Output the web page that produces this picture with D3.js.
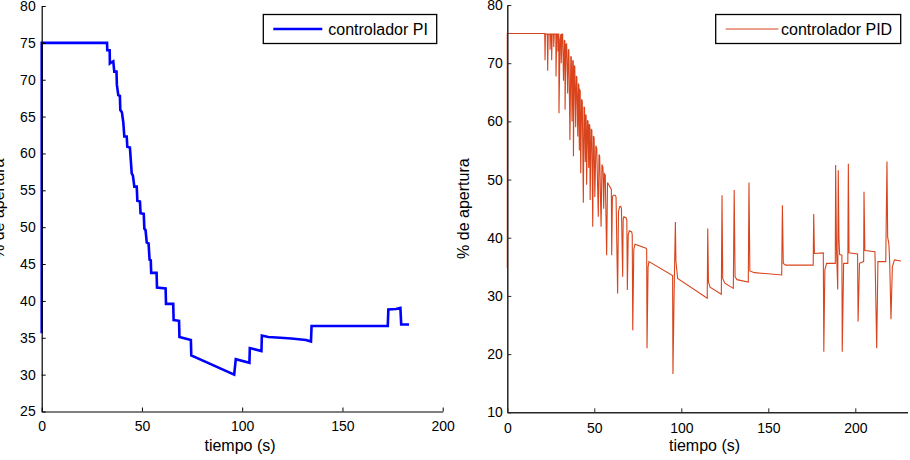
<!DOCTYPE html>
<html>
<head>
<meta charset="utf-8">
<script src="https://cdn.jsdelivr.net/npm/d3@7"></script>
<style>
  body { margin: 0; background: #fff; }
  svg { display: block; font-family: "Liberation Sans", Arial, sans-serif; }
</style>
</head>
<body>
<svg id="chart" width="910" height="460"></svg>
<script>
// ---------- DATA ----------
const piXTicks = [0, 50, 100, 150, 200];
const piYTicks = [25, 30, 35, 40, 45, 50, 55, 60, 65, 70, 75, 80];
const pidXTicks = [0, 50, 100, 150, 200];
const pidYTicks = [10, 20, 30, 40, 50, 60, 70, 80];
const xLabel = "tiempo (s)";
const yLabel = "% de apertura";
const piName = "controlador PI";
const pidName = "controlador PID";

// [time (s), % apertura]
const piSeries = [[0,35.6],[0,75],[32.6,75],[32.7,74.0],[33.9,74.0],[34.0,72.2],[35.0,72.4],[35.7,72.5],[36.2,71.1],[37.3,71.1],[37.5,69.3],[38.2,67.9],[39.0,67.8],[39.2,65.9],[40.0,65.6],[40.7,64.2],[41.2,62.3],[42.4,62.3],[42.7,60.9],[44.0,60.8],[44.9,57.3],[45.5,57.0],[46.2,55.5],[47.4,55.5],[47.7,53.6],[49.0,53.5],[49.3,51.9],[50.9,51.8],[51.2,49.8],[51.8,49.6],[52.4,47.9],[53.3,47.8],[53.8,45.6],[54.4,45.5],[54.6,43.8],[57.3,43.8],[57.5,41.8],[61.8,41.7],[62.0,39.6],[65.6,39.6],[65.8,37.4],[68.5,37.3],[68.7,35.1],[74.4,34.7],[74.6,32.6],[96.0,30.0],[96.8,32.1],[103.6,31.6],[103.8,33.6],[109.6,33.2],[109.8,35.3],[113.0,35.1],[119,35.0],[124.5,34.9],[131.8,34.7],[134.3,34.5],[134.6,36.6],[172.6,36.6],[172.9,38.85],[176.7,38.9],[178.9,39.05],[179.3,36.8],[183.2,36.8]];

const pidSeries = [[0,34.8],[0,75.1],[21.5,75.1],[21.7,70.5],[21.9,75],[23.0,75],[23.2,68.7],[23.5,75],[24.5,75],[24.6,72.3],[24.9,75],[25.4,75],[25.5,70.5],[25.8,75],[26.6,75],[26.7,72.8],[27.0,75],[27.9,75],[28.0,67.7],[28.4,75],[29.0,75],[29.1,72],[29.4,75],[29.6,75],[29.7,61.4],[30.3,74],[30.8,75],[31.0,70],[31.4,75],[31.8,75.0],[32.3,67],[32.8,74],[33.1,73.8],[33.2,62.0],[33.7,73.2],[34.1,73.3],[34.7,64.8],[35.1,72.3],[35.4,72.3],[36.0,56.8],[36.5,71.2],[36.8,71.0],[37.2,60],[37.6,70.4],[37.9,70.4],[38.0,54.0],[38.5,69.6],[38.8,69.4],[39.3,59],[39.7,67.8],[40.0,67.5],[40.5,57.4],[40.9,66.5],[41.1,66.3],[41.4,55],[41.7,65.4],[41.9,65.3],[42.2,51.1],[42.7,63.8],[43.1,63.5],[43.7,46.0],[44.1,62.5],[44.4,62.3],[44.8,53],[45.1,61.2],[45.3,61.0],[45.6,49.1],[46.1,60.2],[46.4,60.0],[46.8,52],[47.1,59.5],[47.4,59.3],[47.6,46.5],[48.2,58.6],[48.6,58.5],[49.1,41.9],[49.5,57.5],[49.9,57.2],[50.3,47],[50.9,55.8],[51.4,55.4],[52.3,43.6],[52.7,54.3],[53.1,54.0],[53.9,41.9],[54.4,52.6],[55.0,52],[55.4,45],[55.8,51.0],[56.3,50.8],[57.1,37.0],[57.6,49.5],[58.3,49.1],[59.8,48.3],[60.0,37.0],[60.4,47.0],[60.9,47.3],[62.0,47.3],[62.5,47.0],[63.4,30.4],[63.9,44.5],[64.5,45.3],[65.2,45.4],[65.6,45.0],[66.3,33.3],[66.6,43.2],[67.0,43.6],[68.3,43.4],[68.7,43.0],[69.0,31.0],[69.5,40.5],[70.1,41.2],[71.5,41.0],[71.8,40.5],[72.1,24.1],[72.7,38.0],[73.4,38.9],[79.7,38.2],[80.1,38.0],[80.3,21.0],[80.9,35.0],[81.4,35.9],[95.0,33.5],[95.2,16.6],[95.9,31],[96.6,42.7],[96.9,36],[97.9,33.0],[114.9,29.6],[115.2,41.6],[115.6,32.4],[116.5,31.5],[123.0,30.3],[123.4,47.3],[123.8,33.0],[125,32.2],[129.9,31.3],[130.4,48.2],[130.9,33.3],[132,32.8],[138.5,32.4],[138.9,49.5],[139.4,34.3],[142,34.0],[150,33.8],[157.7,33.6],[158.1,45.6],[158.6,35.6],[160,35.3],[175.8,35.3],[176.1,44.1],[176.5,37.3],[181.6,37.4],[181.9,20.4],[182.5,34.5],[183.5,35.6],[188.5,35.6],[188.7,52.5],[189.2,38],[189.9,31.1],[190.2,51.6],[190.6,40],[191,37.1],[192.3,37.0],[192.5,20.4],[193.3,35.6],[195.7,35.6],[196.0,52.7],[196.4,37.4],[201.3,37.2],[201.6,25.6],[202.4,35.6],[204.8,35.9],[205.0,47.9],[205.5,37.8],[211.3,37.6],[212.3,21.0],[213.0,35.9],[217.5,35.9],[218.2,53.1],[218.6,40.1],[219.3,39],[219.8,35.5],[220.5,26.0],[221.3,35],[222.5,36.2],[226.3,36.0]];

// ---------- DRAW ----------
const svg = d3.select("#chart");

function panel(cfg) {
  const x = d3.scaleLinear().domain(cfg.xDomain).range([cfg.left, cfg.right]);
  const y = d3.scaleLinear().domain(cfg.yDomain).range([cfg.bottom, cfg.top]);
  const g = svg.append("g");

  // line
  const line = d3.line().x(d => x(d[0])).y(d => y(d[1]));
  g.append("path").datum(cfg.data)
    .attr("d", line).attr("fill", "none")
    .attr("stroke", cfg.color).attr("stroke-width", cfg.lineWidth)
    .attr("stroke-linejoin", "miter");

  // axes
  const xa = g.append("g").attr("transform", `translate(0,${cfg.bottom})`)
    .call(d3.axisBottom(x).tickValues(cfg.xTicks).tickSizeInner(-4).tickSizeOuter(0).tickPadding(cfg.xPad));
  const ya = g.append("g").attr("transform", `translate(${cfg.left},0)`)
    .call(d3.axisLeft(y).tickValues(cfg.yTicks).tickSizeInner(-4).tickSizeOuter(0).tickPadding(cfg.yPad));
  [xa, ya].forEach(a => {
    a.selectAll("path.domain").attr("stroke", cfg.axisColor).attr("stroke-width", cfg.axisWidth);
    a.selectAll("line").attr("stroke", cfg.axisColor);
    a.selectAll("text").attr("fill", "#000").style("font-size", "14px")
      .style("font-family", '"Liberation Sans", Arial, sans-serif');
  });

  // axis labels
  g.append("text").attr("x", cfg.xLabelX).attr("y", 451)
    .attr("text-anchor", "middle").style("font-size", "16px").text(xLabel);
  g.append("text").attr("transform", `translate(${cfg.yLabelX},${(cfg.top + cfg.bottom) / 2}) rotate(-90)`)
    .attr("text-anchor", "middle").style("font-size", "16px").text(yLabel);

  // legend
  const lg = g.append("g");
  lg.append("rect").attr("x", cfg.legX).attr("y", 14.5).attr("width", cfg.legW).attr("height", 29)
    .attr("fill", "#fff").attr("stroke", "#000").attr("stroke-width", 1.3);
  lg.append("line").attr("x1", cfg.legX + 10).attr("x2", cfg.legX + cfg.legLine)
    .attr("y1", 29).attr("y2", 29).attr("stroke", cfg.color).attr("stroke-width", cfg.lineWidth);
  lg.append("text").attr("x", cfg.legX + cfg.legText).attr("y", 35)
    .style("font-size", "16px").text(cfg.name);
}

panel({
  data: piSeries, name: piName, color: "#0000ff", lineWidth: 2.6,
  xDomain: [0, 200], yDomain: [25, 80], xTicks: piXTicks, yTicks: piYTicks,
  left: 41.7, right: 442.7, top: 6, bottom: 411.5,
  xPad: 10, yPad: 6, axisColor: "#000", axisWidth: 1.2,
  xLabelX: 240, yLabelX: 4,
  legX: 263.3, legW: 173.4, legLine: 59, legText: 65
});

panel({
  data: pidSeries, name: pidName, color: "#d9441c", lineWidth: 1.1,
  xDomain: [0, 230], yDomain: [10, 80], xTicks: pidXTicks, yTicks: pidYTicks,
  left: 507.3, right: 907.5, top: 5, bottom: 412.3,
  xPad: 10.5, yPad: 4.5, axisColor: "#262626", axisWidth: 1.5,
  xLabelX: 704.5, yLabelX: 469,
  legX: 715.7, legW: 185, legLine: 62.6, legText: 65.3
});
</script>
</body>
</html>
